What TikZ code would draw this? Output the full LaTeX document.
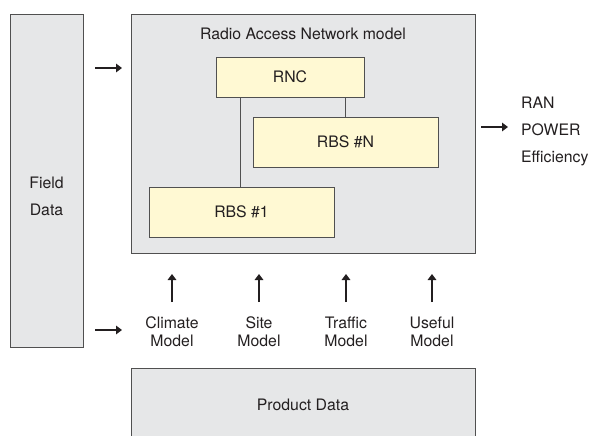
\documentclass[tikz,border=0pt]{standalone}
\usepackage{fontspec}
\setmainfont{TeX Gyre Heros}
\usetikzlibrary{arrows.meta}
\definecolor{panelgray}{HTML}{E6E7E8}
\definecolor{unityellow}{HTML}{FFF9D3}
\definecolor{edgegray}{HTML}{505050}
\definecolor{inkdark}{HTML}{231F20}
\tikzset{
  panel/.style={draw=edgegray, fill=panelgray, line width=0.9pt, inner sep=0pt},
  unit/.style={draw=edgegray, fill=unityellow, line width=0.9pt, inner sep=0pt,
    font=\fontsize{15.8}{18}\selectfont, text=inkdark},
  label/.style={inner sep=0pt, align=center, text=inkdark},
  wide/.style={font=\fontsize{15.8}{27}\selectfont},
  tight/.style={font=\fontsize{15.8}{18}\selectfont},
  link/.style={draw=edgegray, line width=0.9pt},
  flow/.style={draw=inkdark, line width=2.8pt, -{Triangle[length=6pt,width=8.5pt]}}
}
\begin{document}
\begin{tikzpicture}[x=1pt, y=-1pt]
  \useasboundingbox (0,0) rectangle (592,436);

  % data sources and the network panel
  \node[panel, minimum width=73pt, minimum height=333pt] (field) at (46.5,180.5) {};
  \node[label, wide] (fieldtxt) at (46.5,196) {Field\\Data};

  \node[panel, minimum width=344pt, minimum height=239pt] (ran) at (303,133.5) {};
  \node[label, tight] (rantitle) at (303,34) {Radio Access Network model};

  \begin{scope}
    \clip (0,0) rectangle (592,436);
    \node[panel, minimum width=344pt, minimum height=76pt] (product) at (303,406) {};
  \end{scope}
  \node[label, tight] (producttxt) at (303,405) {Product Data};

  % network elements
  \node[unit, minimum width=148pt, minimum height=40pt] (rnc) at (290,77) {RNC};
  \node[unit, minimum width=185pt, minimum height=50pt] (rbsn) at (345.5,142) {RBS \#N};
  \node[unit, minimum width=185pt, minimum height=50pt] (rbs1) at (241.5,212) {RBS \#1};

  \draw[link] ([xshift=-50pt]rnc.south) -- ([xshift=-50pt]rnc.south |- rbs1.north);
  \draw[link] ([xshift=55pt]rnc.south) -- ([xshift=55pt]rnc.south |- rbsn.north);

  % inputs and output
  \coordinate (inA) at (95,68);
  \coordinate (inAend) at (122,68);
  \coordinate (inB) at (95,330);
  \coordinate (inBend) at (122,330);
  \draw[flow] (inA) -- (inAend);
  \draw[flow] (inB) -- (inBend);

  \coordinate (outA) at (481,127);
  \coordinate (outAend) at (508,127);
  \draw[flow] (outA) -- (outAend);
  \node[label, wide, anchor=west, align=left] (result) at (521,131) {RAN\\POWER\\Efficiency};

  % models feeding the network model
  \foreach \name/\xc/\txt in {climate/172/Climate, site/259/Site, traffic/346/Traffic, useful/432/Useful}{
    \node[label, tight] (\name) at (\xc,332) {\txt\\Model};
    \coordinate (\name up) at (\xc,274);
    \draw[flow] (\name.north |- 0,302) -- (\name up);
  }
\end{tikzpicture}
\end{document}
